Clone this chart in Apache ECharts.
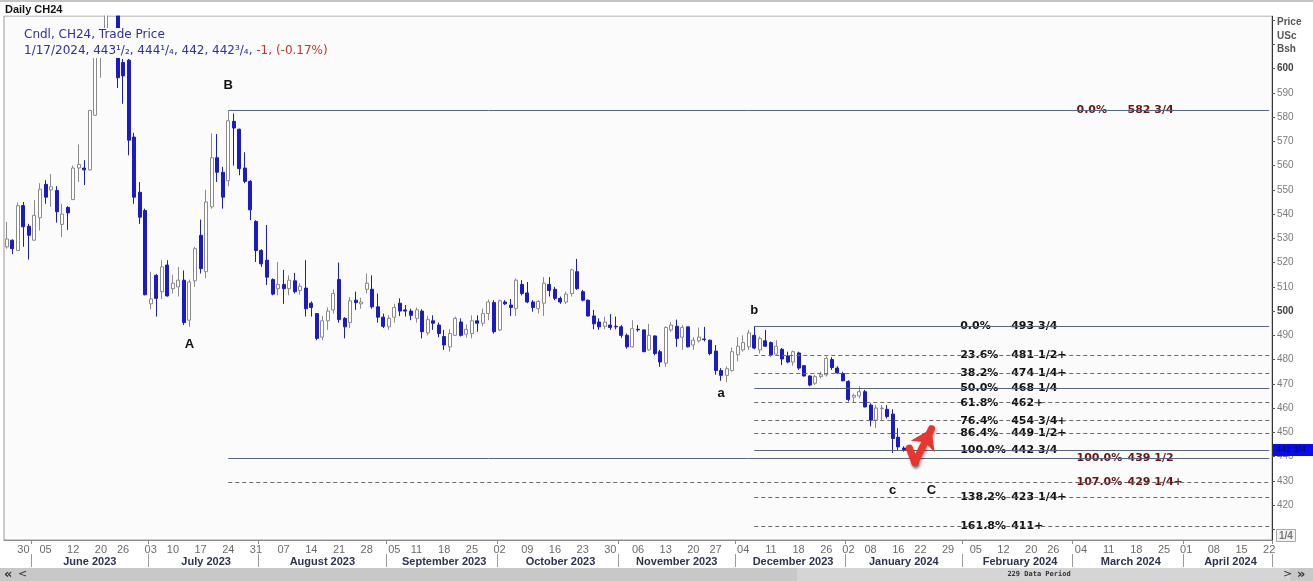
<!DOCTYPE html>
<html><head><meta charset="utf-8">
<script src="https://cdn.jsdelivr.net/npm/echarts/dist/echarts.min.js"></script>
<style>html,body{margin:0;padding:0;background:#fff}#c{width:1313px;height:581px}</style>
</head><body><div id="c"></div>
<script>
// ---------- categories (trading days, CBOT calendar) ----------
const firstDay = [2023, 4, 24];   // 2023-05-24
const lastDay = [2024, 3, 22];    // 2024-04-22
const holidays = ['2023-05-29','2023-06-19','2023-07-04','2023-09-04','2023-11-23','2023-12-25','2024-01-01','2024-01-15','2024-02-19','2024-03-29'];
const monthNames = ['January','February','March','April','May','June','July','August','September','October','November','December'];

// ---------- daily OHLC of CH24 (one entry per trading day from 2023-05-24) ----------
const opens = [
526.5,529.25,525,543.5,535,529.25,538.5,552.25,550,549.75,
535.75,542.75,546,559,559,558.25,580.75,609,616,626,
624,602.5,603.5,571.75,549,541.5,503,514.75,508,519,
509.25,510,512.75,496.25,512.5,531.25,516.25,543,563.25,557.25,
553.75,578.25,575,559,553.5,537,525,521,513,509.25,
511,509.25,512.5,508.5,509.5,503.25,499,489.25,496,500.5,
513,497,495.25,504.5,503,509,509,501.75,497.5,493.5,
497.5,503.25,500.5,500,497,500,491,496,494.25,489.5,
485.25,490,495.5,490.5,490.75,496,495,499,503.5,492.25,
503.75,502.5,501,511,507.5,503.75,501,503.25,511,509,
505.25,503.75,507.25,516.25,508,504.5,498,495.5,493.75,494.25,
493.75,493.5,490,485.25,492.5,492.25,484,489.75,483.25,478.5,
492.25,493.75,489.25,493.5,486,487.75,488.5,488,483.5,475.5,
473.5,475.5,482,484,485.25,490,484,487.75,487,482.25,
484.25,481.5,479,482.75,477.5,473.25,470.25,473,473.75,480,
476.5,474.25,471,464.5,465,466.75,461.25,455,459.75,459.5,
457.5,448,443.5];
const highs = [
536.75,529.5,544.75,545,536,545.75,552.75,554,556.5,551.5,
544.25,543.25,560,568.75,562.25,583,612,616,640,632,
626,604,604,573.5,553.25,542.25,516.25,515.25,521,521,
515,518.25,516.75,513,526.5,537.75,550,573.25,573,559.5,
582.75,581.5,575.25,565.5,554,537.5,525.5,535.5,513.5,520.25,
517,514.75,515.75,511.5,521,504,499,498,501.5,509,
520,497.5,505.75,508,505.5,515.5,514.75,507.25,499,498.25,
503,505.25,502.5,501,501.5,500.75,498,498.25,495.25,492.25,
492.5,497.75,497,494.5,498.25,498.25,501,504.75,504.5,504.75,
504.5,505,513.5,512.75,512,504.5,504.5,514,514,510,
506,508,517.5,521.5,508.75,504.75,500.5,497,497.75,498.75,
497.75,494.25,490.75,496.25,494.25,492.25,494.75,490,484,493.75,
495.5,496.5,494.25,493.5,489.25,493.25,493.5,488.25,486,476.5,
477.25,485,489.25,490,492.25,493.75,489.5,492.25,487.5,488,
484.75,483.25,483.75,483.25,477.75,473.5,473.75,475,481.25,481,
477.25,475,471.5,466,469,467.5,462,461.25,461.25,461.25,
459.5,451.75,444.25];
const lows = [
525.75,523.5,524.75,526.5,521.25,529,533.25,544.25,543,536.5,
530.5,533.5,545.75,553.25,552,558,580.5,596.25,612,622.5,
592,585.5,564.25,544.25,536,506.5,500.75,497.75,505,506,
507.25,506,494.25,493.5,510,515.5,513.5,542.25,553.25,542.25,
551.5,560,556,552.75,537.5,520.25,518.25,510.75,506.5,506.5,
503,506.5,507.25,506.75,497.75,497.75,488,488,492.25,499,
495.25,488.75,493,500.5,501,507.25,501,495.25,493,492.25,
495.25,498,497.75,496.25,495.25,488.75,490,492.25,489.25,484,
483.25,489.75,489.5,489,488.75,491.5,493.75,496.25,490.75,491.75,
502.5,498,498,506.5,503.25,499.75,499,498,506,504.5,
503,503,506,508.75,504,497.75,492.5,492.25,492.5,492.25,
492.5,489,484.5,485,491.5,483.25,483.75,481.75,477,477,
491.5,485.25,484,485,484,487,487.5,481.75,473.75,471.25,
470.75,475,479.25,483.25,484,484.25,482.5,485.25,481.25,482,
477.75,478.5,477.5,475.75,473,469,469.5,472.25,473,475.75,
474.25,471,462.75,462.25,464,460.25,452.5,451.75,455,455.75,
441.5,442.75,442];
const closes = [
529.75,525.75,543.5,534.75,531.25,539.5,550.25,547,551.25,541,
540,540.5,559,560.5,558.25,582.75,607,614,630,624,
596.25,597,570.5,547,538.75,506.75,505,505.25,518.25,506.25,
511.5,512.75,495.25,512,525.75,517.5,545,563.25,557.25,547,
578.5,575.5,558.75,553.5,541.75,525,519.5,514,507,511,
509.25,512.75,508,510.25,501,501.5,488.75,496,500,507.25,
496.5,493.5,504.25,503.5,503.75,511.5,501.75,497.5,493.75,497,
501.5,500,500,498.25,500.5,491.5,496.5,495,490.75,486,
490.75,497,490,492.5,496,495,499,503.75,491.5,504.25,
503,501.5,512.75,507.25,503.75,501.5,504,511.5,508.5,505.25,
503.75,507,517,509.25,504.5,498,494.75,493.5,495.5,493.25,
493.5,490,485.25,492.75,492.25,483.25,490,482.5,479,493.25,
494.25,488.75,493.25,485.25,488,489.25,488.25,482.5,475.5,473.5,
476.25,483.25,485.5,487,491,484.75,488.75,485.5,482,485.5,
480.25,479,483.25,476.5,473.25,469.5,473,473.75,480.5,476.75,
474.5,471.25,463.5,465.25,466.75,460.5,455,460,460,456.5,
447.5,444,442.75];
const lastPrice = 442.75;
const lastPriceText = '442 3/4';

// ---------- Fibonacci levels ----------
const bigStartIdx = 40;          // B high (Jul 24)
const bigPct = ['0.0%','100.0%','107.0%'];
const bigVal = [582.75, 439.5, 429.47];
const bigTxt = ['582 3/4','439 1/2','429 1/4+'];
const bigDash = [0, 0, 1];
const smallStartIdx = 135;       // b high (Dec 6)
const smallPct = ['0.0%','23.6%','38.2%','50.0%','61.8%','76.4%','86.4%','100.0%','138.2%','161.8%'];
const smallVal = [493.75, 481.71, 474.27, 468.25, 462.23, 454.79, 449.69, 442.75, 423.27, 411.23];
const smallTxt = ['493 3/4','481 1/2+','474 1/4+','468 1/4','462+','454 3/4+','449 1/2+','442 3/4','423 1/4+','411+'];
const smallDash = [0,1,1,0,1,1,1,0,1,1];
const bigLabelIdx = 193;
const smallLabelIdx = 172;

// ---------- wave labels ----------
const waveNames = ['A','B','a','b','c','C'];
const waveIdx = [33, 40, 129, 135, 160, 167];
const wavePrice = [486.1, 593.2, 465.9, 500.3, 426.2, 426.2];

// ---------- red arrow (category index, price) ----------
const arrowIdx = [163, 164, 167];
const arrowPrice = [443.5, 437.5, 451.5];

// ---------- y ticks ----------
const yMin = 405.6, yMax = 621.7;
const yLabelLow = 420, yLabelHigh = 600;

// ---------- build categories ----------
const holSet = new Set(holidays);
const dates = [];
for (let t = Date.UTC(...firstDay); t <= Date.UTC(...lastDay); t += 86400000) {
  const d = new Date(t), wd = d.getUTCDay(), s = d.toISOString().slice(0, 10);
  if (wd !== 0 && wd !== 6 && !holSet.has(s)) dates.push(s);
}
const dayNum = s => Math.floor(Date.UTC(+s.slice(0,4), +s.slice(5,7)-1, +s.slice(8,10)) / 86400000);
const weekOf = s => Math.floor((dayNum(s) + 3) / 7);
const weekStart = new Set(), monthStart = new Set(), monthMid = new Set();
let groupStart = 0;
for (let i = 1; i <= dates.length; i++) {
  if (i < dates.length && weekOf(dates[i]) !== weekOf(dates[i-1])) weekStart.add(i);
  if (i === dates.length || dates[i].slice(0,7) !== dates[i-1].slice(0,7)) {
    if (i < dates.length) monthStart.add(i);
    const last = i - 1;
    if (last - groupStart + 1 >= 10) monthMid.add(Math.round((groupStart + last) / 2));
    groupStart = i;
  }
}

const candleData = opens.map((o, i) => [o, closes[i], lows[i], highs[i]]);

const solidColor = '#56667f', dashColor = '#6b6b6b';
function fibLines(startIdx, vals, dash) {
  return vals.map((v, i) => [
    { coord: [startIdx, v], lineStyle: { color: dash[i] ? dashColor : solidColor, width: 1, type: dash[i] ? [4, 3] : 'solid' } },
    { coord: [dates.length - 1, v] }
  ]);
}
function labelSeries(idx, vals, txts, color, offX) {
  return {
    type: 'scatter', z: 4, silent: true, symbolSize: 0.1, itemStyle: { color: 'transparent', opacity: 1 },
    data: vals.map((v, i) => ({ value: [idx, v], name: txts[i] })),
    label: { show: true, position: 'right', distance: 0, offset: [offX, 0], formatter: p => p.name,
      fontFamily: 'DejaVu Sans', fontWeight: 'bold', fontSize: 11, color: color, opacity: 1,
      backgroundColor: '#fbfbfb', padding: [0, 1] }
  };
}

const chart = echarts.init(document.getElementById('c'));
chart.setOption({
  animation: false,
  backgroundColor: '#ffffff',
  textStyle: { fontFamily: 'Liberation Sans' },
  title: {
    left: 22, top: 26, padding: [1, 2, 1, 2], backgroundColor: '#fbfbfb', z: 10,
    text: '{a|Cndl, CH24, Trade Price}\n{a|1/17/2024, 443\u00B9/\u2082, 444\u00B9/\u2084, 442, 442\u00B3/\u2084, }{r|-1, (-0.17%)}',
    textStyle: { fontWeight: 'normal', rich: {
      a: { fontFamily: 'DejaVu Sans', fontSize: 12, fontWeight: 'normal', color: '#30309e', lineHeight: 16 },
      r: { fontFamily: 'DejaVu Sans', fontSize: 12, fontWeight: 'normal', color: '#c8322c', lineHeight: 16 }
    } }
  },
  grid: { left: 4, right: 41, top: 16, bottom: 41, show: true, backgroundColor: '#fbfbfb',
    borderColor: '#9a9a9a', borderWidth: 1, containLabel: false, outerBoundsMode: 'none' },
  xAxis: [
    { type: 'category', data: dates, boundaryGap: true,
      axisLine: { show: true, lineStyle: { color: '#8c8c8c' } },
      axisTick: { show: true, interval: i => monthStart.has(i), length: 4, lineStyle: { color: '#8c8c8c' } },
      axisLabel: { interval: i => weekStart.has(i), formatter: v => v.slice(8, 10), fontSize: 11,
        color: '#6b6b6b', margin: 4, fontFamily: 'Liberation Sans' },
      splitLine: { show: false } },
    { type: 'category', data: dates, boundaryGap: true, position: 'bottom', offset: 14,
      axisLine: { show: false },
      axisTick: { show: true, interval: i => monthStart.has(i), length: 13, lineStyle: { color: '#9a9a9a' } },
      axisLabel: { interval: i => monthMid.has(i),
        formatter: v => monthNames[+v.slice(5, 7) - 1] + ' ' + v.slice(0, 4),
        fontSize: 11, fontWeight: 'bold', color: '#2c3452', margin: 2, fontFamily: 'Liberation Sans' },
      splitLine: { show: false } }
  ],
  yAxis: {
    type: 'value', position: 'right', min: yMin, max: yMax, splitNumber: 22,
    axisLine: { show: true, lineStyle: { color: '#333' } },
    axisTick: { show: true, length: 3, lineStyle: { color: '#555' } },
    splitLine: { show: false },
    axisLabel: { margin: 5, fontSize: 10, color: '#7a7a7a', fontFamily: 'Liberation Sans',
      showMinLabel: false, showMaxLabel: false,
      formatter: v => { const r = Math.round(v); if (r < yLabelLow || r > yLabelHigh) return '';
        return r % 100 === 0 ? '{b|' + r + '}' : String(r); },
      rich: { b: { fontWeight: 'bold', color: '#444', fontSize: 10, fontFamily: 'Liberation Sans' } } }
  },
  series: [
    { type: 'line', z: 1, silent: true, data: [], symbol: 'none',
      markLine: { silent: true, symbol: ['none', 'none'], label: { show: false }, animation: false,
        data: fibLines(bigStartIdx, bigVal, bigDash).concat(fibLines(smallStartIdx, smallVal, smallDash)) } },
    { type: 'candlestick', z: 2, barWidth: 3.5, clip: true, data: candleData, xAxisIndex: 0,
      itemStyle: { color: '#ffffff', color0: '#1b1bc6', borderColor: '#8a8a8a', borderColor0: '#1b1bc6', borderWidth: 1 } },
    { type: 'line', z: 8, silent: true, data: [], symbol: 'none',
      markLine: { silent: true, symbol: ['none', 'none'], animation: false,
        data: [{ yAxis: lastPrice, lineStyle: { color: 'rgba(0,0,0,0)', width: 0 },
          label: { show: true, position: 'end', distance: 1, formatter: lastPriceText, color: '#0a0a40',
            backgroundColor: '#0b0bf2', fontSize: 9, width: 34, padding: [2, 3, 1, 3], fontFamily: 'Liberation Sans' } }] } },
    labelSeries(bigLabelIdx, bigVal, bigPct, '#6e1212', 0),
    labelSeries(bigLabelIdx, bigVal, bigTxt, '#6e1212', 51),
    labelSeries(smallLabelIdx, smallVal, smallPct, '#111111', 0),
    labelSeries(smallLabelIdx, smallVal, smallTxt, '#111111', 51),
    { type: 'scatter', z: 4, silent: true, symbolSize: 0.1, itemStyle: { color: 'transparent', opacity: 1 },
      data: waveNames.map((n, i) => ({ value: [waveIdx[i], wavePrice[i]], name: n })),
      label: { show: true, position: 'inside', formatter: p => p.name, fontFamily: 'Liberation Sans',
        fontWeight: 'bold', fontSize: 13, color: '#111' } },
    { type: 'lines', coordinateSystem: 'cartesian2d', z: 6, silent: true, symbol: ['none', 'none'],
      data: [{ coords: [[arrowIdx[0], arrowPrice[0]], [arrowIdx[1], arrowPrice[1]]] }],
      lineStyle: { color: '#e8352d', width: 7, opacity: 1, cap: 'round', shadowBlur: 3,
        shadowColor: 'rgba(0,0,0,0.35)', shadowOffsetX: 1, shadowOffsetY: 2 } },
    { type: 'lines', coordinateSystem: 'cartesian2d', z: 6, silent: true, symbol: ['none', 'arrow'], symbolSize: 20,
      data: [{ coords: [[arrowIdx[1], arrowPrice[1]], [arrowIdx[2], arrowPrice[2]]] }],
      lineStyle: { color: '#e8352d', width: 7, opacity: 1, cap: 'round', shadowBlur: 3,
        shadowColor: 'rgba(0,0,0,0.35)', shadowOffsetX: 1, shadowOffsetY: 2 } }
  ],
  graphic: [
    { type: 'rect', z: 100, shape: { x: 0, y: 0, width: 1313, height: 15.5 }, style: { fill: '#ffffff' } },
    { type: 'rect', z: 100, shape: { x: 0, y: 0, width: 1313, height: 2 }, style: { fill: '#c4c4c4' } },
    { type: 'text', z: 101, x: 5, y: 4, style: { text: 'Daily CH24', font: 'bold 11px "Liberation Sans"', fill: '#111' } },
    { type: 'text', z: 100, x: 1277, y: 17, style: { text: 'Price', font: 'bold 10px "Liberation Sans"', fill: '#555' } },
    { type: 'text', z: 100, x: 1277, y: 31, style: { text: 'USc', font: 'bold 10px "Liberation Sans"', fill: '#555' } },
    { type: 'text', z: 100, x: 1277, y: 44, style: { text: 'Bsh', font: 'bold 10px "Liberation Sans"', fill: '#555' } },
    { type: 'rect', z: 100, shape: { x: 1276.5, y: 529.5, width: 19, height: 12 }, style: { fill: '#f3f3f3', stroke: '#a8a8a8', lineWidth: 1 } },
    { type: 'text', z: 101, x: 1279, y: 531, style: { text: '1/4', font: 'bold 10px "Liberation Sans"', fill: '#777' } },
    { type: 'rect', z: 100, shape: { x: 0, y: 568, width: 1313, height: 13 }, style: { fill: '#c8c8c8' } },
    { type: 'rect', z: 100, shape: { x: 797, y: 568, width: 493, height: 13 }, style: { fill: '#d5d5d5' } },
    { type: 'text', z: 101, x: 1039, y: 574.5, style: { text: '229 Data Period', font: 'bold 7px "DejaVu Sans Mono"', fill: '#333', align: 'center', verticalAlign: 'middle' } },
    { type: 'text', z: 101, x: 4, y: 574.5, style: { text: '\u00AB', font: 'bold 13px "DejaVu Sans"', fill: '#333', verticalAlign: 'middle' } },
    { type: 'text', z: 101, x: 18, y: 574.5, style: { text: '<', font: '11px "DejaVu Sans"', fill: '#333', verticalAlign: 'middle' } },
    { type: 'text', z: 101, x: 1283, y: 574.5, style: { text: '>', font: '11px "DejaVu Sans"', fill: '#333', verticalAlign: 'middle' } },
    { type: 'text', z: 101, x: 1297, y: 574.5, style: { text: '\u00BB', font: 'bold 13px "DejaVu Sans"', fill: '#333', verticalAlign: 'middle' } }
  ]
});
</script>
</body></html>
